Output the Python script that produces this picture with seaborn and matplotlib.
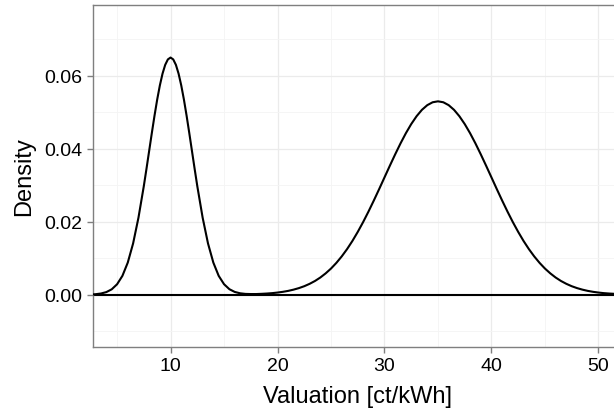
import matplotlib
matplotlib.use("Agg")
import matplotlib.pyplot as plt
import seaborn as sns
import pandas as pd
from matplotlib.ticker import MultipleLocator, FixedLocator

# Values
valuation = [2.75, 3, 3.5, 4, 4.5, 5, 5.5, 6, 6.5, 7, 7.5, 7.75, 8, 8.25, 8.5, 8.75,
             9, 9.25, 9.5, 9.75, 10, 10.25, 10.5, 10.75, 11, 11.25, 11.5, 11.75, 12,
             12.25, 12.5, 13, 13.5, 14, 14.5, 15, 15.5, 16, 16.5, 17, 17.5, 18, 18.5,
             19, 19.5, 20, 20.5, 21, 21.5, 22, 22.5, 23, 23.5, 24, 24.5, 25, 25.5, 26,
             26.5, 27, 27.5, 28, 28.5, 29, 29.5, 30, 30.5, 31, 31.5, 32, 32.5, 33, 33.5,
             34, 34.5, 35, 35.5, 36, 36.5, 37, 37.5, 38, 38.5, 39, 39.5, 40, 40.5, 41,
             41.5, 42, 42.5, 43, 43.5, 44, 44.5, 45, 45.5, 46, 46.5, 47, 47.5, 48, 48.5,
             49, 49.5, 50, 50.5, 51, 51.5, 52, 52.25]
density = [0.00009, 0.00014, 0.00033, 0.00072, 0.00148, 0.00286, 0.00517, 0.00880,
           0.01406, 0.02111, 0.02976, 0.03452, 0.03942, 0.04432, 0.04906, 0.05347,
           0.05736, 0.06059, 0.06300, 0.06449, 0.06500, 0.06449, 0.06300, 0.06059,
           0.05736, 0.05347, 0.04906, 0.04432, 0.03942, 0.03452, 0.02976, 0.02111,
           0.01406, 0.00880, 0.00517, 0.00288, 0.00151, 0.00076, 0.00039, 0.00022,
           0.00018, 0.00018, 0.00024, 0.00032, 0.00043, 0.00059, 0.00079, 0.00105,
           0.00139, 0.00181, 0.00233, 0.00298, 0.00376, 0.00471, 0.00585, 0.00717,
           0.00872, 0.01049, 0.01249, 0.01473, 0.01721, 0.01989, 0.02277, 0.02580,
           0.02894, 0.03215, 0.03535, 0.03848, 0.04148, 0.04427, 0.04677, 0.04892,
           0.05067, 0.05195, 0.05274, 0.05300, 0.05274, 0.05195, 0.05067, 0.04892,
           0.04677, 0.04427, 0.04148, 0.03848, 0.03535, 0.03215, 0.02894, 0.02580,
           0.02277, 0.01989, 0.01721, 0.01473, 0.01249, 0.01049, 0.00872, 0.00717,
           0.00585, 0.00471, 0.00376, 0.00298, 0.00233, 0.00181, 0.00139, 0.00105,
           0.00079, 0.00059, 0.00043, 0.00032, 0.00024, 0.00016, 0.00014]
x_ticks = [10, 20, 30, 40, 50]
y_ticks = [0.00, 0.02, 0.04, 0.06]
y_tick_labels = ["0.00", "0.02", "0.04", "0.06"]
x_label = "Valuation [ct/kWh]"
y_label = "Density"

sns.set_theme(style="white")
plt.rcParams['font.family'] = ['Liberation Sans', 'DejaVu Sans']

df = pd.DataFrame({"valuation": valuation, "density": density})

fig = plt.figure(figsize=(6.14, 4.10), dpi=100)
ax = fig.add_axes([93 / 614, (410 - 347.7) / 410, (622.5 - 93) / 614, (347.7 - 6) / 410])

ax.set_xlim(2.75, 52.25)
ax.set_ylim(-0.01425, 0.0794)

ax.xaxis.set_major_locator(FixedLocator(x_ticks))
ax.xaxis.set_minor_locator(MultipleLocator(5))
ax.yaxis.set_major_locator(FixedLocator(y_ticks))
ax.yaxis.set_minor_locator(FixedLocator([-0.01, 0.01, 0.03, 0.05, 0.07]))
ax.set_yticklabels(y_tick_labels)

ax.grid(which="major", color="#EBEBEB", linewidth=0.9)
ax.grid(which="minor", color="#F4F4F4", linewidth=0.6)
ax.set_axisbelow(True)

ax.axhline(0, color="black", linewidth=1.5, zorder=2)
sns.lineplot(data=df, x="valuation", y="density", ax=ax, color="black",
             linewidth=1.5, sort=False, zorder=3)

for side in ["left", "bottom", "top", "right"]:
    ax.spines[side].set_color("#7F7F7F")
    ax.spines[side].set_linewidth(1.0)
    ax.spines[side].set_visible(True)

ax.tick_params(axis="both", which="major", length=4.5, width=1.0, color="#7F7F7F",
               labelsize=14, labelcolor="black", pad=3, left=True, bottom=True)
ax.tick_params(axis="both", which="minor", length=0)

ax.set_xlabel(x_label, fontsize=17, color="black", labelpad=8)
ax.set_ylabel(y_label, fontsize=17, color="black", labelpad=7)

fig.savefig("out.png", dpi=100)
